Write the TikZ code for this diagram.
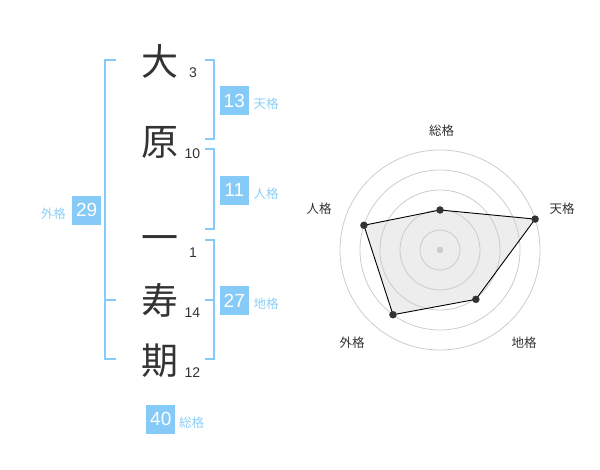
\documentclass[tikz,border=0pt]{standalone}
\usepackage{fontspec}
\setmainfont{Liberation Sans}
\newfontfamily\cjk{Noto Sans CJK JP}
\definecolor{skyb}{HTML}{86CBF7}
\definecolor{skyt}{HTML}{8CCFF6}
\definecolor{ink}{HTML}{333333}
\definecolor{ring}{HTML}{CCCCCC}
\begin{document}
\begin{tikzpicture}[x=1pt,y=-1pt,
  kanji/.style={font=\cjk\fontsize{37}{37}\selectfont, text=ink, inner sep=0pt, text height=32.5pt, text depth=4.5pt},
  strk/.style={font=\fontsize{14}{14}\selectfont, text=ink, inner sep=0pt, anchor=base},
  valbox/.style={fill=skyb, text=white, minimum width=29pt, minimum height=29pt, inner sep=0pt, font=\fontsize{19}{19}\selectfont},
  lbl/.style={font=\cjk\fontsize{12.5}{12.5}\selectfont, text=skyt, inner sep=0pt},
  rlbl/.style={font=\cjk\fontsize{12.5}{12.5}\selectfont, text=ink, inner sep=0pt},
  brk/.style={draw=skyb, line width=2pt},
  dot/.style={circle, fill=ink, inner sep=0pt, minimum size=7.5pt}]
\useasboundingbox (0,0) rectangle (600,470);
% kanji
\node[kanji] (k1) at (160,62) {大};
\node[kanji] (k2) at (160,142) {原};
\node[kanji] (k3) at (160,238) {一};
\node[kanji] (k4) at (160,301) {寿};
\node[kanji] (k5) at (160,361) {期};
% strokes
\node[strk] (s1) at (193,77.7) {3};
\node[strk] (s2) at (192.3,158.3) {10};
\node[strk] (s3) at (193,257.3) {1};
\node[strk] (s4) at (192.3,317.3) {14};
\node[strk] (s5) at (192.3,377.7) {12};
% brackets
\draw[brk] (116,60) -- (105,60) -- (105,359.3) -- (116,359.3);
\draw[brk] (105,300) -- (116,300);
\draw[brk] (205,60) -- (214,60) -- (214,139.3) -- (205,139.3);
\draw[brk] (205,149.3) -- (214,149.3) -- (214,229.3) -- (205,229.3);
\draw[brk] (205,240) -- (214,240) -- (214,359.3) -- (205,359.3);
\draw[brk] (205,300) -- (214,300);
% value boxes
\node[valbox] (b1) at (234.3,100.5) {13};
\node[lbl] (l1) at (266,104) {天格};
\node[valbox] (b2) at (234.3,190.3) {11};
\node[lbl] (l2) at (266,193.5) {人格};
\node[valbox] (b3) at (234.3,300.5) {27};
\node[lbl] (l3) at (266,304) {地格};
\node[valbox] (b4) at (86.7,210.3) {29};
\node[lbl] (l4) at (53.3,213.3) {外格};
\node[valbox] (b5) at (160.8,419) {40};
\node[lbl] (l5) at (191.7,422.5) {総格};
% radar
\coordinate (c) at (440,250);
\coordinate (p1) at (440,210);
\coordinate (p2) at ({440+100*cos(18)},{250-100*sin(18)});
\coordinate (p3) at ({440+61*cos(54)},{250+61*sin(54)});
\coordinate (p4) at ({440-80*cos(54)},{250+80*sin(54)});
\coordinate (p5) at ({440-80*cos(18)},{250-80*sin(18)});
\fill[black!7] (p1) -- (p2) -- (p3) -- (p4) -- (p5) -- cycle;
\foreach \r in {20,40,60,80,100} \draw[ring, line width=0.8pt] (c) circle[radius=\r];
\fill[ring] (c) circle[radius=3.3];
\draw[black, line width=0.9pt] (p1) -- (p2) -- (p3) -- (p4) -- (p5) -- cycle;
\foreach \p in {p1,p2,p3,p4,p5} \node[dot] at (\p) {};
\node[rlbl] (r1) at (441.5,130.5) {総格};
\node[rlbl] (r2) at (562,208.5) {天格};
\node[rlbl] (r3) at (524,342.5) {地格};
\node[rlbl] (r4) at (352,342.5) {外格};
\node[rlbl] (r5) at (319,208.5) {人格};
\end{tikzpicture}
\end{document}
